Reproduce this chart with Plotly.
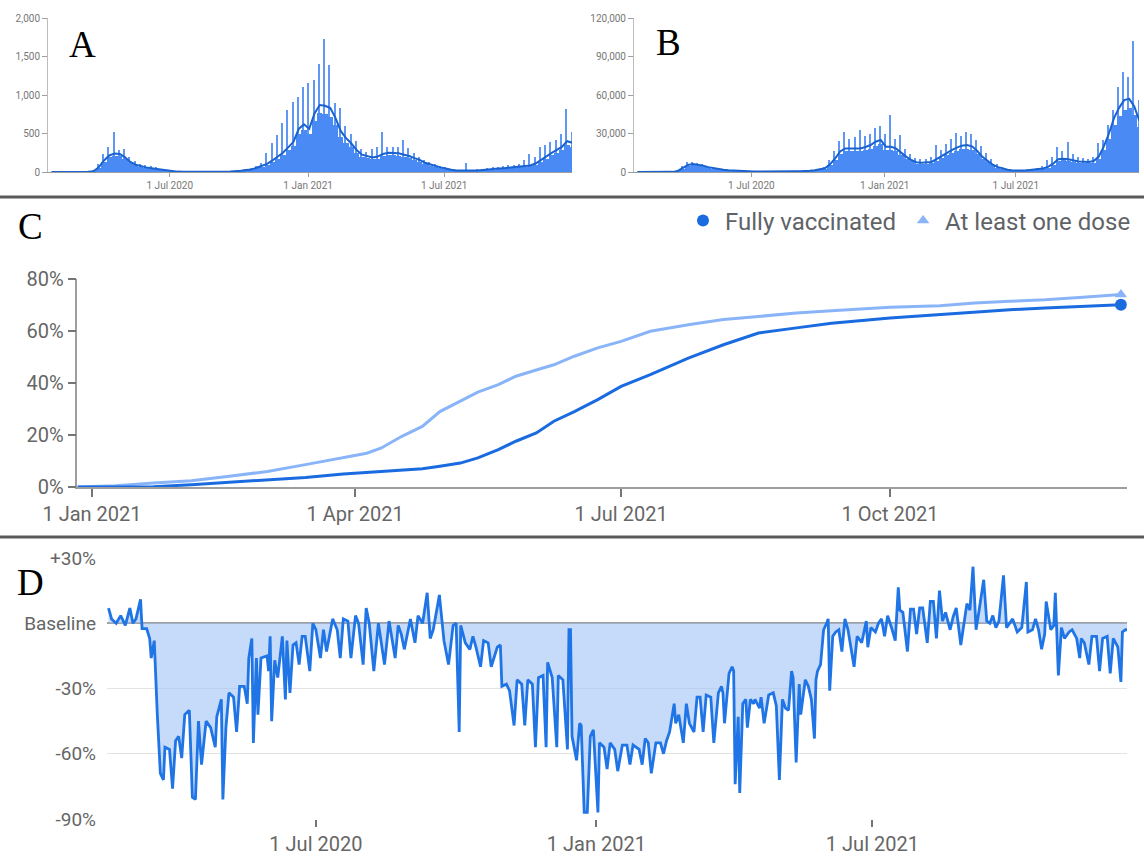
import pandas as pd
import plotly.graph_objects as go

W, H = 1144, 859

# ---------------- Panel A / B : weekly readings (week starting 22 Jan 2020) ----------------
week_start = "2020-01-22"
n_weeks = 100

deaths_avg = [0, 0, 0, 0, 0, 0, 0, 2,
              10, 60, 150, 215, 240, 235, 190, 130, 95, 75, 60, 50, 40, 30, 18, 10,
              5, 4, 3, 3, 3, 3, 3, 3, 3, 4, 5,
              8, 15, 25, 32, 55, 75, 105, 150, 195, 250,
              320, 390, 560, 620, 560, 760, 870, 860, 830, 700,
              530, 440, 370, 285, 225, 205, 190, 200, 235, 250,
              248, 243, 225, 208, 180, 156, 120, 95, 78, 60,
              40, 30, 20, 17, 17, 18, 20, 24, 30, 36,
              44, 50, 57, 64, 70, 78, 85, 110, 150, 200,
              245, 285, 325, 400, 380]
deaths_hi = [0, 0, 0, 0, 0, 0, 0, 4,
             20, 110, 230, 330, 520, 290, 300, 200, 140, 110, 90, 75, 60, 45, 30, 15,
             8, 6, 5, 5, 5, 5, 5, 5, 5, 6, 8,
             12, 22, 40, 50, 80, 120, 243, 372, 480, 630,
             805, 910, 980, 1110, 1150, 1195, 1400, 1723, 1390, 890,
             830, 600, 500, 400, 300, 264, 300, 320, 525, 330,
             330, 320, 415, 307, 250, 200, 160, 130, 100, 80,
             60, 45, 30, 28, 121, 30, 35, 40, 50, 60,
             70, 80, 85, 95, 110, 150, 234, 200, 330, 350,
             394, 420, 500, 814, 524]
deaths_typ = [0, 0, 0, 0, 0, 0, 0, 1,
              8, 50, 130, 190, 210, 205, 165, 115, 85, 65, 52, 43, 35, 26, 15, 8,
              4, 3, 2, 2, 2, 2, 2, 2, 2, 3, 4,
              7, 13, 22, 28, 48, 65, 92, 130, 170, 220,
              280, 340, 490, 540, 490, 660, 760, 750, 720, 610,
              460, 380, 320, 250, 195, 180, 165, 175, 205, 220,
              215, 210, 195, 180, 155, 135, 105, 82, 68, 52,
              35, 26, 17, 15, 15, 16, 18, 21, 26, 31,
              38, 44, 50, 56, 61, 68, 74, 95, 130, 175,
              215, 250, 285, 350, 330]

cases_avg = [0, 0, 0, 0, 0, 0, 0,
             100, 800, 3000, 5500, 6300, 5800, 4800, 3800, 3000, 2300, 1800, 1400, 1100, 900, 700, 500, 400,
             350, 300, 300, 300, 350, 400, 450, 500, 500,
             600, 900, 1400, 2000, 2900, 6000, 10500, 16000, 18400, 18400,
             18400, 18400, 19500, 21000, 23600, 25000, 19700, 19700, 18400, 15000,
             12000, 9500, 7600, 7300, 7300, 7800, 10000, 12500, 15000, 17000,
             19000, 20500, 21000, 20000, 16500, 12000, 9000, 6000, 4000, 2600,
             1800, 1200, 1000, 1100, 1400, 1800, 2300, 2800, 4000, 6500,
             10000, 10300, 9900, 9000, 8200, 8000, 7800, 8500, 12000, 20000,
             30000, 42000, 50000, 56000, 57000, 51000, 40000]
cases_hi = [0, 0, 0, 0, 0, 0, 0,
            200, 1500, 4500, 7500, 7600, 7000, 6000, 4800, 3800, 3000, 2300, 1800, 1400, 1200, 900, 700, 550,
            450, 400, 400, 400, 450, 550, 600, 650, 700,
            800, 1200, 1900, 2700, 4000, 9000, 16000, 24000, 31400, 26000,
            27000, 32700, 28000, 30000, 34000, 35800, 30000, 44400, 26000, 28800,
            18000, 14000, 11000, 10000, 10000, 12000, 21000, 17000, 22000, 26000,
            30100, 28000, 31400, 30000, 25000, 20000, 15000, 10000, 6500, 4000,
            2700, 1900, 1500, 1600, 2000, 2600, 3200, 4500, 9000, 12000,
            19700, 16000, 23600, 14000, 12000, 11000, 10500, 12000, 22300, 25000,
            36600, 48300, 66500, 78200, 74300, 102300, 56000]
cases_typ = [0, 0, 0, 0, 0, 0, 0,
             80, 700, 2600, 4800, 5500, 5000, 4200, 3300, 2600, 2000, 1550, 1200, 950, 780, 600, 430, 350,
             300, 260, 260, 260, 300, 350, 390, 430, 430,
             520, 780, 1200, 1750, 2500, 5200, 9100, 13900, 16000, 16000,
             16000, 16000, 17000, 18300, 20500, 21700, 17100, 17100, 16000, 13000,
             10400, 8300, 6600, 6350, 6350, 6800, 8700, 10900, 13000, 14800,
             16500, 17800, 18300, 17400, 14300, 10400, 7800, 5200, 3500, 2250,
             1550, 1050, 870, 950, 1200, 1550, 2000, 2400, 3500, 5600,
             8700, 9000, 8600, 7800, 7100, 7000, 6800, 7400, 10400, 17400,
             26000, 36500, 43500, 48700, 49600, 44400, 34800]

ab_tickvals = ["2020-07-01", "2021-01-01", "2021-07-01"]
ab_ticktext = ["1 Jul 2020", "1 Jan 2021", "1 Jul 2021"]

# ---------------- Panel C : vaccination share (%) ----------------
vac_dates = ["2020-12-27", "2021-01-09", "2021-01-22", "2021-02-04", "2021-02-17", "2021-03-02",
             "2021-03-15", "2021-03-28", "2021-04-05", "2021-04-10", "2021-04-17", "2021-04-24",
             "2021-04-30", "2021-05-07", "2021-05-13", "2021-05-20", "2021-05-26", "2021-06-02",
             "2021-06-08", "2021-06-15", "2021-06-23", "2021-07-01", "2021-07-11", "2021-07-24",
             "2021-08-05", "2021-08-17", "2021-08-30", "2021-09-11", "2021-10-01", "2021-10-18",
             "2021-10-30", "2021-11-11", "2021-11-23", "2021-12-06", "2021-12-19"]
one_dose = [0, 0.5, 1.5, 2.4, 4.1, 6.0, 8.6, 11.2, 13.0, 15.0, 19.5, 23.3, 29.0, 33.0, 36.5,
            39.4, 42.6, 45.0, 47.0, 50.3, 53.5, 56.0, 59.9, 62.4, 64.4, 65.6, 66.9, 67.8,
            69.1, 69.7, 70.8, 71.4, 72.0, 73.0, 74.0]
fully_vac = [0, 0, 0.1, 0.9, 1.9, 2.8, 3.7, 5.0, 5.6, 6.0, 6.5, 7.0, 8.0, 9.2, 11.2,
             14.4, 17.6, 20.8, 25.3, 29.0, 33.6, 38.7, 43.2, 49.6, 54.7, 59.2, 61.2, 63.0,
             65.0, 66.3, 67.3, 68.2, 68.8, 69.5, 70.1]
c_tickvals = ["2021-01-01", "2021-04-01", "2021-07-01", "2021-10-01"]
c_ticktext = ["1 Jan 2021", "1 Apr 2021", "1 Jul 2021", "1 Oct 2021"]
c_yvals = [0, 20, 40, 60, 80]
c_ytext = ["0%", "20%", "40%", "60%", "80%"]

# ---------------- Panel D : mobility vs baseline (days since 15 Feb 2020, %) ----------------
mob_start = "2020-02-15"
mob_day = [1, 3, 6, 9, 12, 15, 17, 19, 22, 23, 26, 28, 29, 31, 33, 34, 35, 37, 38, 41, 43, 45, 47, 49,
           51, 54, 56, 58, 60, 62, 65, 68, 71, 72, 75, 76, 78, 80, 83, 85, 87, 90, 92, 93, 95, 96,
           98, 99, 101, 105, 106, 107, 108, 110, 112, 115, 117, 118, 120, 122, 124, 126, 128, 130,
           133, 135, 137, 140, 142, 144, 148, 151, 153, 155, 158, 160, 163, 165, 168, 170, 172, 175,
           178, 182, 185, 189, 191, 193, 195, 199, 202, 204, 207, 210, 212, 214, 218, 221,
           224, 227, 229, 231, 232, 235, 238, 240, 242, 245, 247, 250, 252, 256, 258, 259, 262, 264,
           267, 269, 272, 274, 276, 279, 281, 283, 286, 288, 289, 292, 295, 296, 299, 302, 303, 304,
           305, 308, 310, 311, 313, 315, 317, 319, 320, 322, 323, 326, 328, 330, 333, 335, 338, 341,
           343, 345, 349, 351, 353, 355, 357, 360, 363, 365, 367, 369, 372, 373, 375, 378, 380, 382,
           385, 387, 389, 391, 393, 396, 398, 401, 403, 404, 405, 408, 410, 411, 412, 414, 415, 417,
           419, 420, 422, 424, 425, 428, 429, 431, 434, 437,
           439, 441, 443, 445, 447, 449, 450, 452, 454, 455, 458, 460, 462, 464, 465, 466, 468, 470,
           472, 473, 474, 476, 478, 480, 482, 484, 486, 490, 492, 495, 498, 499, 501, 504, 506, 508,
           510, 512, 515, 517, 519, 520, 522, 525, 527, 529, 531, 533, 535, 538, 540, 542, 544, 546,
           548, 550, 553, 555, 557, 560, 564, 566, 568, 570, 572, 575, 577, 579, 581, 583, 585, 588,
           590, 592, 594, 597, 600, 603, 604, 607, 609, 611, 613, 615, 616, 619, 621, 622, 624, 626,
           628, 631, 633, 636, 638, 639, 641, 644, 646, 649, 651, 653, 656, 658, 660, 663, 665, 666,
           668, 669]
mob_val = [7, 2, 0, 3.5, -1, 7, 0, 2, 11, -2.5, -2.5, -7, -16, -8, -42, -55, -69, -72, -57, -58, -76, -54, -52, -62,
           -42, -40, -80, -81, -45, -65, -45, -48, -57, -43, -35, -81, -48, -32, -34, -50, -29, -29, -37, -16, -7, -55,
           -16, -42, -16, -15, -22, -6, -45, -17, -25, -6, -35, -8, -32, -10, -9, -19, -6, -6,
           -22, 0, -3, -16, -3, -13, 2, -3, -16, 2, 1, -16, 3.5, 0, -19, 7, 0, -22,
           0, -19, 1, -16, -1, -5, -12, 2, -9, 3.5, 0, 14, -7, -3, 13, -8,
           -19, -1, 0, -50, -1, -9, -12, -6, -11, -20, -8, -9, -20, -11, -10, -29, -28, -31,
           -47, -26, -28, -47, -26, -28, -57, -25, -24, -57, -18, -25, -57, -24, -26, -58, -3, -3,
           -52, -63, -46, -47, -87, -87, -52, -49, -62, -87, -55, -57, -67, -55, -58, -68, -56, -56,
           -65, -56, -58, -65, -53, -55, -69, -55, -55, -60, -54, -50, -37, -46, -42, -55, -37, -46,
           -50, -34, -34, -50, -33, -34, -55, -32, -29, -32, -46, -23, -20, -22, -74, -43, -78, -37,
           -35, -48, -35, -37, -35, -39, -34, -46, -33, -32,
           -38, -72, -35, -39, -40, -22, -25, -64, -28, -42, -26, -29, -35, -53, -26, -22, -19, -3,
           0, 2, -31, -6, -4, -3, -13, 2, -3, -20, -6, -9, 1, -11, -2, -4, 0, 2,
           -6, 3.5, -3, -8, 16.5, 6, 5, -13, 6.5, 6.5, -5, 7, 7, -9, 10, 10, -7, 15,
           1, 5, -3, 3, 7, -10, 9, 6, 26, -3, 6, 20, 1, 0, 3.5, -2, 1, 22,
           -2, 0, 2, -4, -2, 19, -4, -3, 2, -3, -12, -5, 10, -3, -1, 14, -24, -2,
           -7, -4, -3, -7, -16, -7, -9, -19, -6, -6, -22, -7, -6, -23, -7, -11, -27, -4,
           -3, -3]
d_tickvals = ["2020-07-01", "2021-01-01", "2021-07-01"]
d_ticktext = ["1 Jul 2020", "1 Jan 2021", "1 Jul 2021"]
d_yvals = [30, 0, -30, -60, -90]
d_ytext = ["+30%", "Baseline", "-30%", "-60%", "-90%"]

# ---------------- derived x positions ----------------
weeks = pd.date_range(week_start, periods=n_weeks, freq="7D")
x_mid = weeks + pd.Timedelta(hours=84)
x_spike = weeks + pd.Timedelta(hours=60)
week_w = 7 * 86400000
spike_w = 1.6 * 86400000
mob_x = pd.Timestamp(mob_start) + pd.to_timedelta(mob_day, unit="D")

BAR = "#4a8af4"
SPIKE = "#5f97f2"
AVG = "#1a62cf"
DARK = "#1a6be0"
LIGHT = "#8ab4f8"
GREY_T = "#666666"
FONT = "Roboto, Arial, sans-serif"


def px_x(x):
    return x / W


def px_y(y):
    return 1 - y / H


fig = go.Figure()

# Panel A
fig.add_trace(go.Bar(x=x_spike, y=deaths_hi, width=spike_w, marker=dict(color=SPIKE, line_width=0),
                     xaxis="x", yaxis="y", showlegend=False))
fig.add_trace(go.Bar(x=x_mid, y=deaths_typ, width=week_w, marker=dict(color=BAR, line_width=0),
                     xaxis="x", yaxis="y", showlegend=False))
fig.add_trace(go.Scatter(x=x_mid, y=deaths_avg, mode="lines", line=dict(color=AVG, width=2),
                         xaxis="x", yaxis="y", showlegend=False))
# Panel B
fig.add_trace(go.Bar(x=x_spike, y=cases_hi, width=spike_w, marker=dict(color=SPIKE, line_width=0),
                     xaxis="x2", yaxis="y2", showlegend=False))
fig.add_trace(go.Bar(x=x_mid, y=cases_typ, width=week_w, marker=dict(color=BAR, line_width=0),
                     xaxis="x2", yaxis="y2", showlegend=False))
fig.add_trace(go.Scatter(x=x_mid, y=cases_avg, mode="lines", line=dict(color=AVG, width=2),
                         xaxis="x2", yaxis="y2", showlegend=False))
# Panel C
fig.add_trace(go.Scatter(x=vac_dates, y=one_dose, mode="lines", line=dict(color=LIGHT, width=3),
                         xaxis="x3", yaxis="y3", showlegend=False))
fig.add_trace(go.Scatter(x=vac_dates, y=fully_vac, mode="lines", line=dict(color=DARK, width=3),
                         xaxis="x3", yaxis="y3", showlegend=False))
fig.add_trace(go.Scatter(x=[vac_dates[-1]], y=[one_dose[-1]], mode="markers",
                         marker=dict(symbol="triangle-up", size=11, color=LIGHT),
                         xaxis="x3", yaxis="y3", showlegend=False))
fig.add_trace(go.Scatter(x=[vac_dates[-1]], y=[fully_vac[-1]], mode="markers",
                         marker=dict(symbol="circle", size=12, color=DARK),
                         xaxis="x3", yaxis="y3", showlegend=False))
# legend entries
fig.add_trace(go.Scatter(x=[None], y=[None], mode="markers", name="Fully vaccinated",
                         marker=dict(symbol="circle", size=12, color=DARK),
                         xaxis="x3", yaxis="y3", showlegend=True))
fig.add_trace(go.Scatter(x=[None], y=[None], mode="markers", name="At least one dose",
                         marker=dict(symbol="triangle-up", size=11, color=LIGHT),
                         xaxis="x3", yaxis="y3", showlegend=True))
# Panel D
fig.add_trace(go.Scatter(x=mob_x, y=mob_val, mode="lines", line=dict(color="#1f74e6", width=2.8),
                         fill="tozeroy", fillcolor="rgba(160,194,245,0.6)",
                         xaxis="x4", yaxis="y4", showlegend=False))

small_font = dict(family=FONT, size=10, color="#777777")
big_font = dict(family=FONT, size=20, color=GREY_T)

ab_x_common = dict(type="date", range=["2020-01-21", "2021-12-18"], tickvals=ab_tickvals,
                   ticktext=ab_ticktext, ticks="outside", ticklen=4, tickcolor="#9e9e9e",
                   showline=True, linecolor="#9e9e9e", linewidth=1, showgrid=False,
                   zeroline=False, tickfont=small_font, automargin=False)
ab_y_common = dict(ticks="outside", ticklen=5, tickcolor="#9e9e9e", showline=True,
                   linecolor="#bdbdbd", linewidth=1, showgrid=False, zeroline=False,
                   tickformat=",", tickfont=small_font, automargin=False)

fig.update_layout(
    width=W, height=H, autosize=False,
    margin=dict(l=0, r=0, t=0, b=0, autoexpand=False),
    paper_bgcolor="white", plot_bgcolor="white",
    barmode="overlay", bargap=0,
    font=dict(family=FONT, color=GREY_T),
    xaxis=dict(domain=[px_x(48), px_x(572)], anchor="y", **ab_x_common),
    yaxis=dict(domain=[px_y(172), px_y(18)], anchor="x", range=[0, 2000],
               tickvals=[0, 500, 1000, 1500, 2000], **ab_y_common),
    xaxis2=dict(domain=[px_x(634), px_x(1139)], anchor="y2", **ab_x_common),
    yaxis2=dict(domain=[px_y(172), px_y(18)], anchor="x2", range=[0, 120000],
                tickvals=[0, 30000, 60000, 90000, 120000], **ab_y_common),
    xaxis3=dict(domain=[px_x(77.4), px_x(1126.8)], anchor="y3", type="date",
                range=["2020-12-27", "2021-12-21"], tickvals=c_tickvals, ticktext=c_ticktext,
                ticks="outside", ticklen=8, tickwidth=2, tickcolor="#757575",
                showline=True, linecolor="#9e9e9e", linewidth=1.5, showgrid=False,
                zeroline=False, tickfont=big_font, automargin=False),
    yaxis3=dict(domain=[px_y(487), px_y(279)], anchor="x3", range=[0, 80],
                tickvals=c_yvals, ticktext=c_ytext, ticks="outside", ticklen=8,
                tickwidth=2, tickcolor="#757575", showline=True, linecolor="#9e9e9e",
                linewidth=1.5, showgrid=False, zeroline=False, tickfont=big_font,
                automargin=False),
    xaxis4=dict(domain=[px_x(107), px_x(1127)], anchor="y4", type="date",
                range=["2020-02-15", "2021-12-15"], tickvals=d_tickvals, ticktext=d_ticktext,
                ticks="outside", ticklen=7, tickwidth=2, tickcolor="#757575",
                showline=False, showgrid=False, zeroline=False, automargin=False,
                tickfont=big_font),
    yaxis4=dict(domain=[px_y(819), px_y(558)], anchor="x4", range=[-90, 30],
                tickvals=d_yvals, ticktext=d_ytext, showgrid=True, gridcolor="#e3e3e3",
                gridwidth=1, zeroline=True, zerolinecolor="#a0a0a0", zerolinewidth=1.5,
                showline=False, ticks="", ticklabelstandoff=10, automargin=False,
                tickfont=dict(family=FONT, size=19, color=GREY_T)),
    legend=dict(orientation="h", x=px_x(1136), xanchor="right", y=px_y(221), yanchor="middle",
                font=dict(family=FONT, size=24, color="#5f6368"),
                bgcolor="rgba(0,0,0,0)", itemwidth=34, tracegroupgap=0),
)

# panel letters
for letter, x, y in [("A", 82, 45), ("B", 668, 42), ("C", 31, 226), ("D", 31, 582)]:
    fig.add_annotation(text=letter, x=px_x(x), y=px_y(y), xref="paper", yref="paper",
                       showarrow=False, xanchor="center", yanchor="middle",
                       font=dict(family="Liberation Serif, Times New Roman, serif", size=37,
                                 color="black"))

# separators
for ysep in [197, 537]:
    fig.add_shape(type="line", xref="paper", yref="paper", x0=0, x1=1,
                  y0=px_y(ysep), y1=px_y(ysep), line=dict(color="#5a5a5a", width=3))

fig.write_html("out.html")
